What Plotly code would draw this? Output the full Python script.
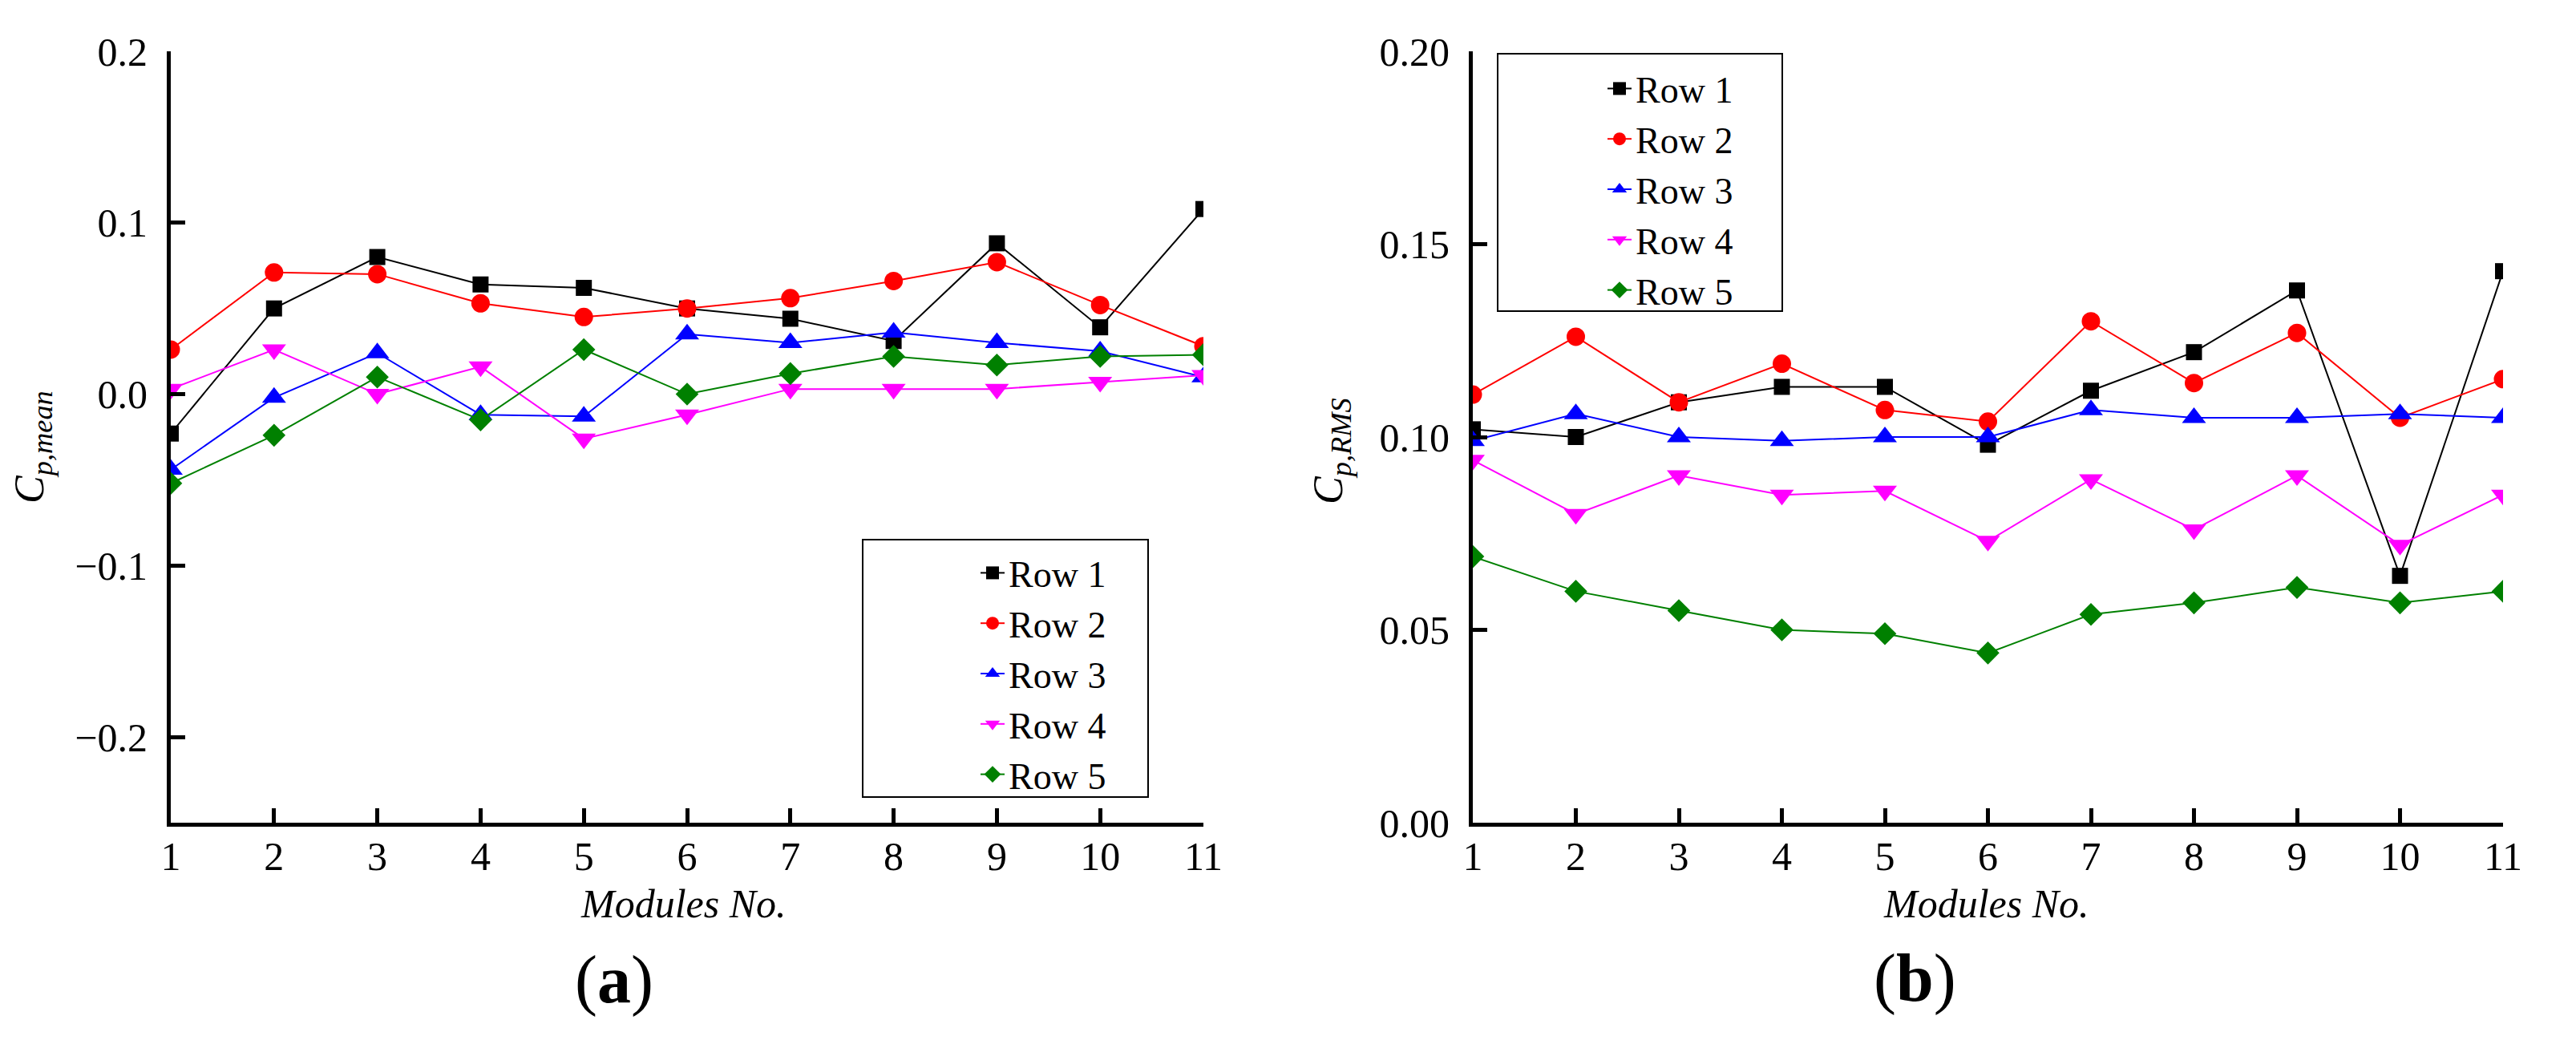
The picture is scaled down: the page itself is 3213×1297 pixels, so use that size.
import plotly.graph_objects as go

W, H = 3213, 1297
PAD = 8  # default page margin around the plot div

modules = list(range(1, 12))
rows = ["Row 1", "Row 2", "Row 3", "Row 4", "Row 5"]

# (a) mean pressure coefficient
mean_row1 = [-0.023, 0.050, 0.080, 0.064, 0.062, 0.050, 0.044, 0.031, 0.088, 0.039, 0.108]
mean_row2 = [0.026, 0.071, 0.070, 0.053, 0.045, 0.050, 0.056, 0.066, 0.077, 0.052, 0.028]
mean_row3 = [-0.044, -0.002, 0.024, -0.012, -0.013, 0.035, 0.030, 0.036, 0.030, 0.025, 0.010]
mean_row4 = [0.003, 0.026, 0.000, 0.016, -0.026, -0.012, 0.003, 0.003, 0.003, 0.007, 0.011]
mean_row5 = [-0.052, -0.024, 0.010, -0.015, 0.026, 0.000, 0.012, 0.022, 0.017, 0.022, 0.023]

# (b) RMS pressure coefficient
rms_row1 = [0.102, 0.100, 0.109, 0.113, 0.113, 0.098, 0.112, 0.122, 0.138, 0.064, 0.143]
rms_row2 = [0.111, 0.126, 0.109, 0.119, 0.107, 0.104, 0.130, 0.114, 0.127, 0.105, 0.115]
rms_row3 = [0.099, 0.106, 0.100, 0.099, 0.100, 0.100, 0.107, 0.105, 0.105, 0.106, 0.105]
rms_row4 = [0.094, 0.080, 0.090, 0.085, 0.086, 0.073, 0.089, 0.076, 0.090, 0.072, 0.085]
rms_row5 = [0.069, 0.060, 0.055, 0.050, 0.049, 0.044, 0.054, 0.057, 0.061, 0.057, 0.060]

colors = ["#000000", "#FF0000", "#0000FF", "#FF00FF", "#008000"]
symbols = ["square", "circle", "triangle-up", "triangle-down", "diamond"]
sizes = [20, 23, 26, 26, 22]

FONT = "Liberation Serif"
FW, FH = W - 2 * PAD, H - 2 * PAD


def px_x(p):
    # screen pixel -> paper fraction
    return (p - PAD) / FW


def px_y(p):
    return 1 - (p - PAD) / FH


fig = go.Figure()

panels = [
    ("x", "y", "legend", [mean_row1, mean_row2, mean_row3, mean_row4, mean_row5]),
    ("x2", "y2", "legend2", [rms_row1, rms_row2, rms_row3, rms_row4, rms_row5]),
]
for xa, ya, leg, series in panels:
    for i, vals in enumerate(series):
        fig.add_trace(go.Scatter(
            x=modules, y=vals, name=rows[i], mode="lines+markers",
            xaxis=xa, yaxis=ya, legend=leg,
            line=dict(color=colors[i], width=2),
            marker=dict(symbol=symbols[i], size=sizes[i], color=colors[i], line=dict(width=0)),
        ))

axis_style = dict(
    showline=True, linecolor="black", linewidth=5, mirror=False,
    ticks="inside", ticklen=18, tickwidth=5, tickcolor="black",
    showgrid=False, zeroline=False, automargin=False,
    tickfont=dict(family=FONT, size=50, color="black"),
)

y_dom = [px_y(1026), px_y(64)]
leg_font = dict(family=FONT, size=46, color="black")
fig.update_layout(
    width=FW, height=FH,
    paper_bgcolor="white", plot_bgcolor="white",
    margin=dict(l=0, r=0, t=0, b=0, autoexpand=False),
    xaxis=dict(domain=[px_x(213), px_x(1501)], range=[1, 11], dtick=1, anchor="y",
               ticklabelstandoff=-6, **axis_style),
    yaxis=dict(domain=y_dom, range=[-0.25, 0.2], dtick=0.1, tickformat=".1f", anchor="x",
               ticklabelstandoff=14, **axis_style),
    xaxis2=dict(domain=[px_x(1837), px_x(3122)], range=[1, 11], dtick=1, anchor="y2",
                ticklabelstandoff=-6, **axis_style),
    yaxis2=dict(domain=y_dom, range=[0, 0.2], dtick=0.05, tickformat=".2f", anchor="x2",
                ticklabelstandoff=14, **axis_style),
    legend=dict(x=px_x(1218), y=px_y(678), xanchor="left", yanchor="top",
                font=leg_font, bgcolor="rgba(0,0,0,0)", borderwidth=0),
    legend2=dict(x=px_x(2000), y=px_y(74), xanchor="left", yanchor="top",
                 font=leg_font, bgcolor="rgba(0,0,0,0)", borderwidth=0),
    showlegend=True,
)

# legend frames
for x0, x1, y0, y1 in [(1076, 1432, 673, 994), (1868, 2223, 67, 388)]:
    fig.add_shape(type="rect", xref="paper", yref="paper",
                  x0=px_x(x0), x1=px_x(x1), y0=px_y(y1), y1=px_y(y0),
                  line=dict(color="black", width=2), fillcolor="rgba(0,0,0,0)")

ann_font = dict(family=FONT, size=50, color="black")
title_font = dict(family=FONT, size=52, color="black")
label_font = dict(family=FONT, size=84, color="black")
annotations = [
    dict(x=px_x(852), y=px_y(1127), text="<i>Modules No.</i>", font=ann_font),
    dict(x=px_x(2477), y=px_y(1127), text="<i>Modules No.</i>", font=ann_font),
    dict(x=px_x(40), y=px_y(558), text="<i>C</i><sub><i>p,mean</i></sub>", font=title_font, textangle=-90),
    dict(x=px_x(1660), y=px_y(563), text="<i>C</i><sub><i>p,RMS</i></sub>", font=title_font, textangle=-90),
    dict(x=px_x(766), y=px_y(1222), text="(<b>a</b>)", font=label_font),
    dict(x=px_x(2388), y=px_y(1220), text="(<b>b</b>)", font=label_font),
]
for a in annotations:
    fig.add_annotation(xref="paper", yref="paper", showarrow=False,
                       xanchor="center", yanchor="middle", **a)

fig.write_html("out.html")
